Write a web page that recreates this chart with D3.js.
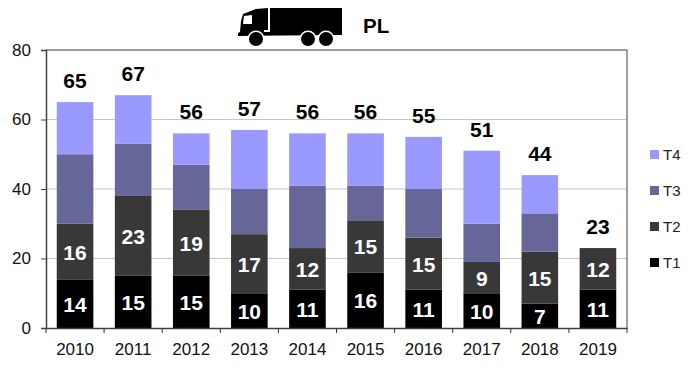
<!DOCTYPE html>
<html>
<head>
<meta charset="utf-8">
<script src="https://cdn.jsdelivr.net/npm/d3@7"></script>
<style>
body { margin: 0; background: #fff; }
text { font-family: "Liberation Sans", Arial, sans-serif; }
</style>
</head>
<body>
<div id="chart"></div>
<script>
const years = ["2010", "2011", "2012", "2013", "2014", "2015", "2016", "2017", "2018", "2019"];
const t1 = [14, 15, 15, 10, 11, 16, 11, 10, 7, 11];
const t2 = [16, 23, 19, 17, 12, 15, 15, 9, 15, 12];
const t3 = [20, 15, 13, 13, 18, 10, 14, 11, 11, 0];
const t4 = [15, 14, 9, 17, 15, 15, 15, 21, 11, 0];
const totals = [65, 67, 56, 57, 56, 56, 55, 51, 44, 23];
const seriesNames = ["T1", "T2", "T3", "T4"];
const seriesColors = ["#000000", "#383838", "#666699", "#9999ff"];
const yTicks = [0, 20, 40, 60, 80];

const svg = d3.select("#chart").append("svg")
    .attr("width", 700)
    .attr("height", 380)
    .style("display", "block");

const x = d3.scaleBand().domain(years).range([46, 627]).paddingInner(0.37).paddingOuter(0.185);
const xOuter = d3.scaleBand().domain(years).range([46, 627]);
const y = d3.scaleLinear().domain([0, 80]).range([328, 50]);

//grid lines
svg.append("g")
    .selectAll("line")
    .data([20, 40, 60])
    .enter()
    .append("line")
    .attr("x1", 46)
    .attr("x2", 627)
    .attr("y1", d => y(d))
    .attr("y2", d => y(d))
    .attr("stroke", "#c4c4c4")
    .attr("stroke-width", 1);

//plot border, top and right
svg.append("path")
    .attr("d", "M46," + y(80) + "H627V" + y(0))
    .attr("fill", "none")
    .attr("stroke", "#808080")
    .attr("stroke-width", 1.5);

//stack the four series
const rows = years.map((yr, i) => ({ year: yr, T1: t1[i], T2: t2[i], T3: t3[i], T4: t4[i] }));
const stacked = d3.stack().keys(seriesNames)(rows);

const groups = svg.append("g")
    .selectAll("g")
    .data(stacked)
    .enter()
    .append("g")
    .attr("fill", (d, i) => seriesColors[i]);

groups.selectAll("rect")
    .data(d => d)
    .enter()
    .append("rect")
    .attr("x", d => x(d.data.year))
    .attr("y", d => y(d[1]))
    .attr("width", x.bandwidth())
    .attr("height", d => y(d[0]) - y(d[1]));

//white labels, only T1 and T2 have them
svg.append("g")
    .selectAll("g")
    .data(stacked.slice(0, 2))
    .enter()
    .append("g")
    .selectAll("text")
    .data(d => d)
    .enter()
    .append("text")
    .attr("x", d => x(d.data.year) + x.bandwidth() / 2)
    .attr("y", d => (y(d[0]) + y(d[1])) / 2 + 8)
    .attr("text-anchor", "middle")
    .attr("font-size", 21)
    .attr("font-weight", "bold")
    .attr("fill", "#fff")
    .text(d => d[1] - d[0]);

//totals over the bars
svg.append("g")
    .selectAll("text")
    .data(totals)
    .enter()
    .append("text")
    .attr("x", (d, i) => x(years[i]) + x.bandwidth() / 2)
    .attr("y", d => y(d) - 14)
    .attr("text-anchor", "middle")
    .attr("font-size", 21)
    .attr("font-weight", "bold")
    .attr("fill", "#000")
    .text(d => d);

//axes
const yAxis = svg.append("g")
    .attr("transform", "translate(46,0)")
    .call(d3.axisLeft(y).tickValues(yTicks).tickSize(5).tickPadding(10));
yAxis.selectAll("text").attr("font-size", 17).attr("fill", "#111");

const xAxis = svg.append("g")
    .attr("transform", "translate(0,328)")
    .call(d3.axisBottom(xOuter).tickSize(0).tickPadding(15));
xAxis.selectAll("text").attr("font-size", 17).attr("fill", "#111");

//tick marks between the years
svg.append("g")
    .selectAll("line")
    .data(years.concat(["end"]))
    .enter()
    .append("line")
    .attr("x1", (d, i) => 46 + i * xOuter.bandwidth())
    .attr("x2", (d, i) => 46 + i * xOuter.bandwidth())
    .attr("y1", 328)
    .attr("y2", 333)
    .attr("stroke", "#333");

svg.selectAll(".domain").attr("stroke", "#404040").attr("stroke-width", 1.5);
yAxis.selectAll("line").attr("stroke", "#404040");

//legend, top entry is T4
const legend = svg.append("g")
    .selectAll("g")
    .data(seriesNames.slice().reverse())
    .enter()
    .append("g")
    .attr("transform", (d, i) => "translate(650," + (150 + i * 36) + ")");

legend.append("rect")
    .attr("width", 9)
    .attr("height", 9)
    .attr("fill", d => seriesColors[seriesNames.indexOf(d)]);

legend.append("text")
    .attr("x", 13)
    .attr("y", 10)
    .attr("font-size", 15)
    .attr("fill", "#222")
    .text(d => d);

//truck icon
const truck = svg.append("g").attr("fill", "#000");
truck.append("path")
    .attr("d", "M238,36 L238,33 L240,32 L241,21 L243,14 L256,9 L268,8 L268,30 L264,30 L264,32 L270,32 L270,8 L342,8 L342,35 L238,36 Z");
truck.append("path")
    .attr("d", "M244,16 L252,15 L252,24 L243,24 Z")
    .attr("fill", "#fff");
truck.selectAll("circle.wheel-gap")
    .data([256, 308, 326])
    .enter()
    .append("circle")
    .attr("cx", d => d)
    .attr("cy", 39)
    .attr("r", 8.5)
    .attr("fill", "#fff");
truck.selectAll("circle.wheel")
    .data([256, 308, 326])
    .enter()
    .append("circle")
    .attr("cx", d => d)
    .attr("cy", 39)
    .attr("r", 7);

svg.append("text")
    .attr("x", 363)
    .attr("y", 33)
    .attr("font-size", 20.5)
    .attr("font-weight", "bold")
    .text("PL");
</script>
</body>
</html>
